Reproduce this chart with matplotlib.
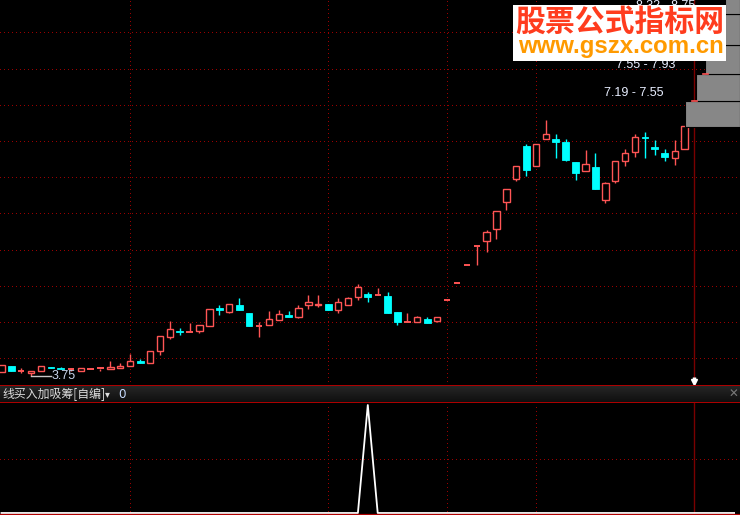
import matplotlib
matplotlib.use("Agg")
import matplotlib.pyplot as plt
from matplotlib.patches import Rectangle
from matplotlib.transforms import blended_transform_factory
import numpy as np

# ---------------- data ----------------
opens = [3.81, 3.89, 3.83, 3.80, 3.82, 3.88, 3.87, 3.85, 3.83, 3.85,
         3.85, 3.85, 3.86, 3.89, 3.96, 3.93, 4.10, 4.30, 4.37, 4.35,
         4.37, 4.44, 4.70, 4.64, 4.74, 4.63, 4.44, 4.46, 4.53, 4.60,
         4.57, 4.73, 4.73, 4.75, 4.66, 4.73, 4.84, 4.89, 4.86, 4.86,
         4.64, 4.49, 4.50, 4.54, 4.52, 4.80, 5.04, 5.29, 5.55, 5.62,
         5.79, 6.16, 6.48, 6.93, 6.66, 7.03, 7.03, 6.99, 6.71, 6.58,
         6.64, 6.18, 6.45, 6.72, 6.85, 7.06, 6.91, 6.84, 6.76, 6.89]
highs = [3.91, 3.89, 3.87, 3.82, 3.89, 3.88, 3.88, 3.87, 3.86, 3.85,
         3.88, 3.96, 3.93, 4.06, 3.99, 4.10, 4.31, 4.51, 4.42, 4.49,
         4.46, 4.68, 4.74, 4.75, 4.83, 4.63, 4.50, 4.65, 4.67, 4.65,
         4.74, 4.87, 4.87, 4.75, 4.83, 4.85, 5.03, 4.92, 4.97, 4.92,
         4.64, 4.63, 4.58, 4.57, 4.57, 4.80, 5.04, 5.29, 5.55, 5.77,
         6.03, 6.33, 6.65, 6.96, 6.96, 7.29, 7.10, 7.03, 6.71, 6.88,
         6.84, 6.44, 6.72, 6.89, 7.10, 7.13, 7.01, 6.89, 7.01, 7.21]
lows = [3.81, 3.82, 3.79, 3.75, 3.82, 3.87, 3.85, 3.82, 3.83, 3.85,
        3.83, 3.85, 3.86, 3.89, 3.93, 3.93, 4.04, 4.26, 4.32, 4.35,
        4.35, 4.44, 4.60, 4.62, 4.67, 4.44, 4.30, 4.46, 4.53, 4.57,
        4.56, 4.68, 4.71, 4.67, 4.63, 4.73, 4.80, 4.78, 4.86, 4.63,
        4.46, 4.49, 4.50, 4.49, 4.50, 4.80, 5.04, 5.29, 5.29, 5.47,
        5.65, 6.05, 6.45, 6.51, 6.66, 7.03, 6.76, 6.72, 6.46, 6.58,
        6.34, 6.15, 6.42, 6.65, 6.78, 6.77, 6.81, 6.73, 6.67, 6.89]
closes = [3.91, 3.82, 3.83, 3.82, 3.89, 3.87, 3.85, 3.85, 3.86, 3.85,
          3.86, 3.88, 3.89, 3.96, 3.93, 4.10, 4.31, 4.41, 4.36, 4.36,
          4.46, 4.68, 4.67, 4.75, 4.67, 4.44, 4.45, 4.54, 4.61, 4.57,
          4.70, 4.77, 4.75, 4.67, 4.77, 4.83, 4.98, 4.85, 4.87, 4.63,
          4.50, 4.50, 4.57, 4.49, 4.57, 4.80, 5.04, 5.29, 5.55, 5.74,
          6.03, 6.33, 6.65, 6.60, 6.96, 7.10, 6.99, 6.74, 6.56, 6.68,
          6.34, 6.42, 6.72, 6.83, 7.05, 7.04, 6.89, 6.78, 6.86, 7.21]

low_mark_idx = 3
low_mark_text = "3.75"

# chip distribution (price bands, relative amount)
chip_lo = [7.19, 7.55, 7.93, 8.32, 8.75]
chip_hi = [7.55, 7.93, 8.32, 8.75, 9.18]
chip_amt = [55, 44, 35, 24, 15]
chip_labels = ["7.19 - 7.55", "7.55 - 7.93", "", "8.32 - 8.75", ""]

# indicator (bottom panel)
signal = [0] * 37 + [1] + [0] * 37

grid_prices = [8.5, 8.0, 7.5, 7.0, 6.5, 6.0, 5.5, 5.0, 4.5, 4.0]
vgrid_idx = [13, 33, 45, 54]
cursor_idx = 70

indicator_title = "线买入加吸筹[自编]"
indicator_value = "0"
wm_title = "股票公式指标网"
wm_url = "www.gszx.com.cn"

# ---------------- style ----------------
RED = "#ff5555"
CYAN = "#00ffff"
GRID = "#9a0000"
BORDER = "#b00000"
W, H = 740, 515
XMIN, XMAX = -0.1515, 74.596
YMIN, YMAX = 3.631, 8.946

fig = plt.figure(figsize=(W / 100, H / 100), dpi=100, facecolor="black")

ax = fig.add_axes([0, 130 / H, 1, 385 / H])
hd = fig.add_axes([0, 112 / H, 1, 18 / H])
lo = fig.add_axes([0, 0.5 / H, 1, 111.5 / H])

for a in (ax, hd, lo):
    a.set_facecolor("black")
    a.set_xticks([])
    a.set_yticks([])
    for s in a.spines.values():
        s.set_visible(False)

dot = (0, (1, 3))
GLW = 0.72

# ---------------- main panel ----------------
ax.set_xlim(XMIN, XMAX)
ax.set_ylim(YMIN, YMAX)
for gp in grid_prices:
    ax.axhline(gp, color=GRID, lw=GLW, ls=dot, zorder=1, antialiased=False)
for gx in vgrid_idx:
    ax.axvline(gx, color=GRID, lw=GLW, ls=dot, zorder=1, antialiased=False)
ax.axvline(cursor_idx, color="#7a0000", lw=1.0, zorder=1)

bw = 0.64
for i in range(len(opens)):
    o, h, l, c = opens[i], highs[i], lows[i], closes[i]
    if c >= o:
        top, bot = c, o
        if h > top:
            ax.plot([i, i], [top, h], color=RED, lw=1.0, zorder=3, solid_capstyle="butt")
        if l < bot:
            ax.plot([i, i], [l, bot], color=RED, lw=1.0, zorder=3, solid_capstyle="butt")
        if top - bot < 0.015:
            ax.plot([i - bw / 2, i + bw / 2], [top, top], color=RED, lw=1.4, zorder=4,
                    solid_capstyle="butt")
        else:
            ax.add_patch(Rectangle((i - bw / 2, bot), bw, top - bot, facecolor="black",
                                   edgecolor=RED, lw=1.0, zorder=4))
    else:
        ax.plot([i, i], [l, h], color=CYAN, lw=1.0, zorder=3, solid_capstyle="butt")
        ax.add_patch(Rectangle((i - bw / 2 - 0.03, c), bw + 0.06, o - c, facecolor=CYAN,
                               edgecolor=CYAN, lw=0.6, zorder=4))

# lowest price marker
lm_y = lows[low_mark_idx]
ax.plot([low_mark_idx, low_mark_idx + 2], [lm_y, lm_y], color="#c8c8c8", lw=1.0, zorder=5)
ax.text(low_mark_idx + 2.05, lm_y, low_mark_text, color="#c8d4ea", fontsize=9,
        family="Liberation Sans", va="center", ha="left", zorder=6)

# chip distribution bars
bt = blended_transform_factory(ax.transAxes, ax.transData)
for clo, chi, amt, lab in zip(chip_lo, chip_hi, chip_amt, chip_labels):
    wfrac = amt / W
    ax.add_patch(Rectangle((1 - wfrac, clo), wfrac, chi - clo, facecolor="#878787",
                           edgecolor="black", lw=0.8, transform=bt, zorder=5, clip_on=False))
    if lab:
        ax.text(1 - wfrac - 21 / W, chi + 0.115, lab, transform=bt, color="#e8eeff",
                fontsize=9, family="Liberation Sans", ha="right", va="center", zorder=6)
for k in (0, 1):
    wfrac = chip_amt[k] / W
    ax.plot([1 - wfrac + 7 / W, 1 - wfrac + 12 / W], [chip_hi[k], chip_hi[k]],
            color=RED, lw=1.2, transform=bt, zorder=6)

# cursor arrow
ab = blended_transform_factory(ax.transData, ax.transAxes)
ax.plot([cursor_idx, cursor_idx], [1 - 377 / 385, 1 - 381 / 385], color="white", lw=2.5,
        transform=ab, zorder=7, solid_capstyle="butt")
ax.plot([cursor_idx], [1 - 382 / 385], marker="v", color="white", markersize=5,
        transform=ab, zorder=7)

# ---------------- header bar ----------------
grad = np.linspace(0, 1, 50).reshape(-1, 1)
hd.imshow(grad, extent=[0, 1, 0, 1], aspect="auto", cmap=matplotlib.colors.LinearSegmentedColormap
          .from_list("g", ["#272727", "#0e0e0e"]), transform=hd.transAxes, zorder=0)
hd.set_xlim(0, 1)
hd.set_ylim(0, 1)
hd.axhline(1, color=BORDER, lw=1.4)
hd.axhline(0, color=BORDER, lw=1.4)
hd.text(2 / W, 0.45, indicator_title, color="#dcdcdc", fontsize=8.6,
        family=["Noto Sans CJK SC", "DejaVu Sans"], va="center", ha="left")
hd.text(105 / W, 0.5, "▾", color="#dcdcdc", fontsize=7, family="DejaVu Sans",
        va="center", ha="left")
hd.text(118 / W, 0.45, indicator_value, color="#c8dcff", fontsize=8.6,
        family="DejaVu Sans", va="center", ha="left")
hd.text(733 / W, 0.5, "✕", color="#7a7a7a", fontsize=8.5, family="DejaVu Sans",
        fontweight="bold", va="center", ha="center")

# ---------------- lower panel ----------------
lo.set_xlim(XMIN, XMAX)
lo.set_ylim(-0.0139, 1.0185)
lo.axhline(0.5, color=GRID, lw=GLW, ls=dot, zorder=1, antialiased=False)
for gx in vgrid_idx:
    lo.axvline(gx, color=GRID, lw=GLW, ls=dot, zorder=1, antialiased=False)
lo.axvline(cursor_idx, color="#7a0000", lw=1.0, zorder=1)
lo.plot(range(len(signal)), signal, color="white", lw=1.3, zorder=3)
lo.axhline(-0.0139, color=BORDER, lw=1.6, zorder=4)

# ---------------- watermark ----------------
fig.patches.append(Rectangle((513 / W, 1 - 61 / H), 213 / W, 56 / H, facecolor="white",
                             edgecolor="none", transform=fig.transFigure, zorder=10))
fig.text(620 / W, 1 - 21.5 / H, wm_title, color="#ff3c1e", fontsize=21.5,
         family="Noto Sans CJK SC", fontweight="bold", ha="center", va="center", zorder=11)
fig.text(621 / W, 1 - 46 / H, wm_url, color="#ff9a00", fontsize=17.3,
         family="Liberation Sans", fontweight="bold", ha="center", va="center", zorder=11)

fig.savefig("out.png", dpi=100, facecolor="black")
